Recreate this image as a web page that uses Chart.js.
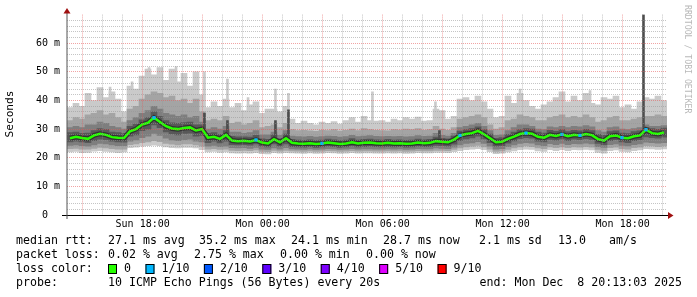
<!DOCTYPE html>
<html>
<head>
<meta charset="utf-8">
<script src="https://cdn.jsdelivr.net/npm/chart.js@4.4.1/dist/chart.umd.min.js"></script>
<style>
  html, body { margin: 0; padding: 0; background: #fff; }
  canvas { display: block; }
</style>
</head>
<body>
<canvas id="ping" width="697" height="297"></canvas>
<script>
// hours since Sun 00:00, one slot = 18 min
const tStart = 14.2175;   // Sun 14:13:03
const tEnd = 44.2175;     // Mon 20:13:03
const slotHours = 0.3;

const xLabelHours = [18, 24, 30, 36, 42];
const xLabels = ['Sun 18:00', 'Mon 00:00', 'Mon 06:00', 'Mon 12:00', 'Mon 18:00'];
const yLabelValues = [0, 10, 20, 30, 40, 50, 60];
const yLabels = ['0  ', '10 m', '20 m', '30 m', '40 m', '50 m', '60 m'];

// median rtt per slot (ms)
const median = [
  26.8, 27.3, 26.9, 26.6, 27.8, 28.4, 28.0, 27.2, 27.0, 26.9,
  29.2, 30.0, 31.6, 32.2, 34.0, 32.5, 31.0, 30.2, 30.0, 30.4,
  30.6, 29.5, 30.0, 27.0, 27.3, 26.6, 28.0, 26.0, 25.8, 25.9,
  25.7, 26.2, 25.3, 25.0, 26.5, 25.4, 26.8, 25.2, 25.0, 24.9,
  25.1, 24.8, 25.0, 25.3, 25.1, 24.8, 25.0, 25.4, 25.0, 25.2,
  25.3, 25.1, 25.0, 25.2, 25.0, 25.1, 24.9, 25.0, 25.3, 25.1,
  25.2, 25.8, 25.6, 25.4, 26.3, 27.8, 28.3, 28.6, 29.4, 28.2,
  26.8, 25.4, 25.6, 26.6, 27.4, 28.3, 28.6, 28.4, 27.3, 27.0,
  28.0, 27.6, 28.2, 27.5, 28.0, 27.8, 28.3, 27.9, 26.5, 26.0,
  27.5, 27.8, 27.0, 26.8, 27.5, 27.8, 29.8, 28.6, 28.3, 28.8
];
// slots where 1 of 10 pings was lost
const lossSlots = [14, 31, 42, 65, 76, 82, 85, 92, 96];

// smoke: spread of the 10 pings per slot (ms)
const smokeMax = [
  37.5, 39.0, 38.0, 42.5, 40.0, 44.5, 41.0, 43.0, 40.5, 36.0,
  45.0, 44.0, 48.5, 51.0, 49.0, 51.5, 47.0, 51.0, 46.5, 49.5,
  45.0, 50.0, 42.0, 37.5, 39.5, 38.0, 40.5, 37.5, 39.0, 36.5,
  38.5, 39.5, 35.5, 37.0, 37.0, 36.0, 38.0, 33.5, 32.0, 32.8,
  32.0, 31.5, 32.5, 32.0, 32.6, 31.8, 33.0, 34.0, 32.5, 34.5,
  33.0, 32.8, 33.0, 32.5, 33.5, 33.0, 34.0, 33.5, 34.2, 32.8,
  33.0, 37.0, 36.5, 33.5, 34.5, 40.5, 41.0, 40.0, 41.5, 39.5,
  37.0, 34.0, 34.5, 41.5, 39.0, 42.5, 40.0, 38.0, 37.0, 38.5,
  39.5, 41.0, 43.0, 39.5, 41.5, 40.0, 42.5, 39.0, 38.5, 41.0,
  40.5, 41.5, 37.5, 38.5, 37.0, 39.5, 41.0, 40.5, 41.5, 40.0
];
const smokeHi2 = [
  33.0, 34.0, 33.5, 35.0, 35.5, 36.5, 35.0, 35.5, 34.0, 32.5,
  37.0, 38.0, 40.5, 42.0, 43.0, 42.5, 41.0, 41.5, 40.0, 40.5,
  39.0, 40.5, 36.0, 33.0, 33.5, 33.0, 34.5, 32.0, 32.5, 31.5,
  32.0, 33.0, 30.5, 31.0, 31.5, 30.5, 32.0, 29.8, 29.5, 29.6,
  29.4, 29.2, 29.6, 29.5, 29.8, 29.3, 29.6, 30.0, 29.5, 30.2,
  29.8, 29.6, 29.5, 29.4, 29.8, 29.7, 30.0, 29.8, 30.2, 29.6,
  29.8, 31.0, 30.0, 29.6, 30.5, 33.5, 34.0, 34.5, 35.0, 34.0,
  31.5, 30.0, 30.5, 33.0, 33.5, 35.0, 34.5, 34.0, 33.0, 33.0,
  34.0, 34.5, 35.0, 34.0, 34.5, 34.0, 35.0, 34.0, 32.5, 33.0,
  34.0, 34.5, 33.0, 33.0, 33.5, 34.0, 34.5, 34.5, 35.0, 34.5
];
const smokeHi3 = [
  30.5, 31.0, 30.5, 31.5, 31.5, 32.5, 32.0, 31.0, 30.5, 30.0,
  33.0, 34.0, 35.5, 36.5, 38.0, 37.0, 35.5, 35.0, 34.5, 35.0,
  34.0, 34.5, 32.5, 30.0, 30.5, 30.0, 31.0, 29.0, 29.0, 28.5,
  28.8, 29.5, 28.0, 28.0, 29.0, 27.8, 29.5, 27.6, 27.4, 27.3,
  27.5, 27.2, 27.4, 27.6, 27.5, 27.2, 27.4, 27.8, 27.4, 27.6,
  27.7, 27.5, 27.4, 27.5, 27.4, 27.5, 27.3, 27.4, 27.7, 27.5,
  27.6, 28.5, 27.8, 27.6, 28.5, 30.5, 31.0, 31.5, 32.0, 31.0,
  29.5, 27.8, 28.0, 29.5, 30.5, 31.5, 31.5, 31.0, 30.0, 29.8,
  30.8, 30.5, 31.0, 30.5, 31.0, 30.8, 31.2, 30.8, 29.5, 29.0,
  30.5, 30.8, 30.0, 29.8, 30.2, 30.5, 31.5, 31.0, 31.0, 31.2
];
const smokeHi4 = [
  28.8, 29.0, 28.5, 28.6, 29.5, 30.2, 29.8, 29.0, 28.8, 28.5,
  31.0, 31.8, 33.2, 34.0, 36.0, 34.5, 33.0, 32.2, 32.0, 32.3,
  32.5, 31.5, 31.5, 28.5, 28.8, 28.2, 29.5, 27.5, 27.3, 27.3,
  27.2, 27.8, 26.6, 26.4, 28.0, 26.6, 28.3, 26.4, 26.2, 26.1,
  26.3, 26.0, 26.2, 26.5, 26.3, 26.0, 26.2, 26.7, 26.2, 26.4,
  26.5, 26.3, 26.2, 26.4, 26.2, 26.3, 26.1, 26.2, 26.5, 26.3,
  26.4, 27.2, 26.8, 26.6, 27.6, 29.3, 29.8, 30.2, 30.8, 29.8,
  28.3, 26.8, 27.0, 28.2, 29.0, 29.8, 30.2, 30.0, 29.0, 28.6,
  29.6, 29.2, 29.8, 29.1, 29.6, 29.4, 29.9, 29.5, 28.2, 27.8,
  29.1, 29.4, 28.6, 28.4, 29.1, 29.4, 30.6, 30.2, 29.9, 30.4
];
const smokeLo4 = [
  25.5, 25.8, 25.5, 25.3, 26.0, 26.5, 26.3, 25.8, 25.5, 25.4,
  27.5, 28.0, 29.5, 30.0, 31.5, 30.5, 29.0, 28.3, 28.0, 28.5,
  28.6, 27.5, 27.8, 25.3, 25.8, 25.2, 25.8, 24.6, 24.5, 24.6,
  24.4, 24.8, 24.0, 23.8, 24.8, 24.0, 24.8, 23.9, 23.8, 23.7,
  23.9, 23.6, 23.8, 24.0, 23.9, 23.6, 23.8, 24.1, 23.8, 23.9,
  24.0, 23.9, 23.8, 23.9, 23.8, 23.9, 23.7, 23.8, 24.0, 23.9,
  23.9, 24.3, 24.2, 24.0, 24.7, 26.0, 26.6, 26.9, 27.5, 26.6,
  25.3, 24.0, 24.2, 25.1, 25.9, 26.7, 27.0, 26.8, 25.8, 25.5,
  26.4, 26.1, 26.6, 26.0, 26.5, 26.3, 26.7, 26.4, 25.0, 24.6,
  26.0, 26.3, 25.5, 25.3, 26.0, 26.3, 27.3, 27.0, 26.8, 27.2
];
const smokeLo3 = [
  24.3, 24.5, 24.2, 24.0, 24.5, 25.0, 24.8, 24.5, 24.2, 24.2,
  25.8, 26.2, 27.0, 27.5, 28.5, 27.8, 26.8, 26.2, 26.0, 26.3,
  26.5, 25.8, 25.5, 24.0, 24.3, 23.9, 24.0, 23.5, 23.4, 23.5,
  23.3, 23.6, 23.0, 22.9, 23.4, 23.0, 23.5, 23.1, 23.0, 22.9,
  23.1, 22.9, 23.0, 23.2, 23.1, 22.9, 23.0, 23.2, 23.0, 23.1,
  23.1, 23.0, 23.0, 23.1, 23.0, 23.1, 22.9, 23.0, 23.2, 23.1,
  23.1, 23.4, 23.3, 23.2, 23.7, 24.5, 25.0, 25.2, 25.6, 25.0,
  24.0, 23.0, 23.2, 23.9, 24.5, 25.0, 25.3, 25.1, 24.5, 24.2,
  24.9, 24.6, 25.0, 24.6, 24.9, 24.8, 25.1, 24.8, 23.9, 23.6,
  24.6, 24.8, 24.3, 24.1, 24.6, 24.8, 25.4, 25.3, 25.1, 25.3
];
const smokeLo2 = [
  23.2, 23.3, 23.0, 23.0, 23.3, 23.6, 23.4, 23.2, 23.0, 23.0,
  24.6, 24.8, 25.3, 25.5, 26.0, 25.6, 25.0, 24.7, 24.5, 24.8,
  24.8, 24.5, 24.0, 23.0, 23.2, 22.9, 23.0, 22.6, 22.5, 22.6,
  22.5, 22.7, 22.2, 22.1, 22.6, 22.3, 22.6, 22.4, 22.3, 22.2,
  22.4, 22.2, 22.3, 22.5, 22.4, 22.2, 22.3, 22.5, 22.3, 22.4,
  22.4, 22.3, 22.3, 22.4, 22.3, 22.4, 22.2, 22.3, 22.5, 22.4,
  22.4, 22.6, 22.6, 22.5, 22.9, 23.4, 23.8, 24.0, 24.3, 23.8,
  23.0, 22.2, 22.4, 22.9, 23.4, 23.8, 24.1, 23.9, 23.4, 23.2,
  23.8, 23.5, 23.8, 23.5, 23.8, 23.7, 23.9, 23.7, 22.9, 22.6,
  23.5, 23.7, 23.2, 23.0, 23.5, 23.7, 24.2, 24.1, 23.9, 24.1
];
const smokeMin = [
  22.0, 22.2, 21.8, 21.9, 22.3, 22.5, 22.2, 22.0, 21.8, 22.0,
  23.5, 23.7, 24.0, 24.2, 24.4, 24.2, 23.8, 23.5, 23.4, 23.6,
  23.6, 23.4, 22.8, 22.0, 22.2, 21.9, 22.0, 21.7, 21.6, 21.7,
  21.6, 21.8, 21.4, 21.3, 21.8, 21.6, 21.8, 21.7, 21.6, 21.5,
  21.7, 21.5, 21.6, 21.8, 21.7, 21.5, 21.6, 21.8, 21.6, 21.7,
  21.7, 21.6, 21.6, 21.7, 21.6, 21.7, 21.5, 21.6, 21.8, 21.7,
  21.7, 21.9, 21.9, 21.8, 22.1, 22.5, 22.8, 23.0, 23.2, 22.8,
  22.1, 21.4, 21.6, 22.0, 22.4, 22.8, 23.0, 22.9, 22.4, 22.2,
  22.8, 22.5, 22.8, 22.5, 22.8, 22.7, 22.9, 22.7, 21.9, 21.6,
  22.5, 22.7, 22.2, 22.0, 22.5, 22.7, 23.2, 23.1, 22.9, 23.1
];

// single-sample outliers (hours, ms)
const spikeHours = [16.37, 17.47, 18.32, 19.67, 21.09, 22.24, 23.27, 24.64, 25.29, 29.49, 32.64, 36.87, 40.37];
const spikeTop   = [44.7, 46.5, 51.5, 51.8, 50.0, 47.5, 41.0, 44.0, 42.5, 43.0, 39.5, 44.0, 43.5];
const darkHours  = [21.09, 22.24, 24.64, 25.29, 32.84, 43.04];
const darkBase   = [29.0, 27.5, 26.5, 26.0, 25.5, 29.0];
const darkTop    = [35.6, 33.0, 33.0, 36.7, 29.5, 70.0];

const lossColors = ['#26ff00', '#00b8ff', '#0059ff', '#5e00ff', '#7e00ff', '#dd00ff', '#ff0000'];
const lossNames = ['0', '1/10', '2/10', '3/10', '4/10', '5/10', '9/10'];

// legend rows: [text, x]
const rttLegend = [
  ['median rtt:', 16], ['27.1 ms avg', 108], ['35.2 ms max', 199], ['24.1 ms min', 291],
  ['28.7 ms now', 383], ['2.1 ms sd', 479], ['13.0', 558], ['am/s', 609]
];
const lossLegend = [
  ['packet loss:', 16], ['0.02 % avg', 108], ['2.75 % max', 194], ['0.00 % min', 280], ['0.00 % now', 366]
];
const probeText = '10 ICMP Echo Pings (56 Bytes) every 20s';
const endText = 'end: Mon Dec  8 20:13:03 2025';

const slotTimes = median.map((v, i) => tStart + (i + 0.5) * slotHours);
const band = (lo, hi) => slotTimes.map((t, i) => ({ x: t, y: [lo[i], hi[i]] }));
const medianPts = slotTimes.map((t, i) => ({ x: t, y: median[i] }));

const hourTicks = [];
for (let h = Math.ceil(tStart); h <= tEnd; h++) hourTicks.push(h);
const yGrid = [];
for (let v = 0; v <= 70; v += 2) yGrid.push(v);

const MONO = '"DejaVu Sans Mono"';
const bar = { type: 'bar', stack: 'smoke', borderWidth: 0, barThickness: 6 };

// axes, arrows and the rrdtool style legend underneath
const rrdDecor = {
  id: 'rrdDecor',
  afterDraw(chart) {
    const ctx = chart.ctx;
    const a = chart.chartArea;
    ctx.save();
    ctx.fillStyle = '#000';
    ctx.fillRect(62, a.bottom, a.right - 62 + 1, 1);
    ctx.fillStyle = '#555';
    ctx.fillRect(a.left - 0.5, 12, 1, a.bottom - 12 + 4);

    ctx.fillStyle = '#a01010';
    ctx.beginPath();
    ctx.moveTo(a.right + 1, a.bottom - 3); ctx.lineTo(a.right + 6.5, a.bottom + 0.5); ctx.lineTo(a.right + 1, a.bottom + 4);
    ctx.fill();
    ctx.beginPath();
    ctx.moveTo(a.left - 3.5, 13.5); ctx.lineTo(a.left, 8); ctx.lineTo(a.left + 3.5, 13.5);
    ctx.fill();

    ctx.fillStyle = '#000';
    ctx.font = '11.2px ' + MONO;
    ctx.textAlign = 'center';
    ctx.textBaseline = 'middle';
    ctx.save();
    ctx.translate(10.5, 114);
    ctx.rotate(-Math.PI / 2);
    ctx.fillText('Seconds', 0, 0);
    ctx.restore();

    ctx.fillStyle = '#b8b8b8';
    ctx.font = '8.2px ' + MONO;
    ctx.textAlign = 'left';
    ctx.save();
    ctx.translate(687, 5);
    ctx.rotate(Math.PI / 2);
    ctx.fillText('RRDTOOL / TOBI OETIKER', 0, 0);
    ctx.restore();

    ctx.fillStyle = '#000';
    ctx.font = '11.6px ' + MONO;
    const rows = [241, 255, 269, 283];
    rttLegend.forEach(([s, x]) => ctx.fillText(s, x, rows[0]));
    lossLegend.forEach(([s, x]) => ctx.fillText(s, x, rows[1]));
    ctx.fillText('loss color:', 16, rows[2]);
    ctx.fillText('probe:', 16, rows[3]);
    ctx.fillText(probeText, 108, rows[3]);
    ctx.textAlign = 'right';
    ctx.fillText(endText, 682, rows[3]);
    ctx.textAlign = 'left';

    let cx = 108;
    lossNames.forEach((name, i) => {
      ctx.fillStyle = lossColors[i];
      ctx.fillRect(cx, rows[2] - 5, 9, 10);
      ctx.strokeStyle = '#000';
      ctx.lineWidth = 1;
      ctx.strokeRect(cx + 0.5, rows[2] - 4.5, 8, 9);
      ctx.fillStyle = '#000';
      ctx.fillText(name, cx + 16, rows[2]);
      cx += 16 + ctx.measureText(name).width + 14.5;
    });
    ctx.restore();
  }
};

new Chart(document.getElementById('ping'), {
  type: 'bar',
  data: {
    datasets: [
      { type: 'line', data: medianPts, borderColor: lossColors[0], borderWidth: 2.5, tension: 0,
        pointStyle: 'rect', pointBorderWidth: 0, pointBackgroundColor: lossColors[1],
        pointRadius: c => lossSlots.includes(c.dataIndex) ? 2.3 : 0, order: 0 },
      { type: 'line', data: medianPts, borderColor: '#323232', borderWidth: 5, tension: 0, pointRadius: 0, order: 1 },
      { ...bar, barThickness: 2, backgroundColor: '#4d4d4d', order: 2,
        data: darkHours.map((t, i) => ({ x: t, y: [darkBase[i], darkTop[i]] })) },
      { ...bar, data: band(smokeLo4, smokeHi4), backgroundColor: '#585858', order: 3 },
      { ...bar, data: band(smokeLo3, smokeHi3), backgroundColor: '#7e7e7e', order: 4 },
      { ...bar, data: band(smokeLo2, smokeHi2), backgroundColor: '#a4a4a4', order: 5 },
      { ...bar, data: band(smokeMin, smokeMax), backgroundColor: '#cacaca', order: 6 },
      { ...bar, barThickness: 2, backgroundColor: '#cacaca', order: 7,
        data: spikeHours.map((t, i) => ({ x: t, y: [25, spikeTop[i]] })) }
    ]
  },
  options: {
    responsive: false,
    animation: false,
    events: [],
    layout: { padding: { left: 0, top: 14.6, right: 30, bottom: 0 } },
    plugins: { legend: { display: false }, tooltip: { enabled: false } },
    scales: {
      x: {
        type: 'linear', min: tStart, max: tEnd, offset: false,
        afterBuildTicks: s => { s.ticks = hourTicks.map(v => ({ value: v })); },
        afterFit: s => { s.height = 82; },
        ticks: {
          autoSkip: false, maxRotation: 0, minRotation: 0, padding: 3, color: '#000',
          font: { family: MONO, size: 10 },
          callback: v => { const k = xLabelHours.indexOf(v); return k >= 0 ? xLabels[k] : ''; }
        },
        grid: { offset: false, drawTicks: false, z: 1,
          color: c => (c.tick && c.tick.value % 3 === 0) ? 'rgba(230,90,90,0.55)' : 'rgba(150,150,150,0.55)' },
        border: { display: false, dash: [1, 1] }
      },
      y: {
        min: 0, max: 70, stacked: false,
        afterBuildTicks: s => { s.ticks = yGrid.map(v => ({ value: v })); },
        afterFit: s => { s.width = 67; },
        ticks: {
          autoSkip: false, padding: 7, color: '#000',
          font: { family: MONO, size: 10 },
          callback: v => { const k = yLabelValues.indexOf(v); return k >= 0 ? yLabels[k] : ''; }
        },
        grid: { drawTicks: false, z: 1,
          color: c => {
            const v = c.tick ? c.tick.value : -1;
            if (v === 0 || v === 70) return 'rgba(0,0,0,0)';
            return v % 10 === 0 ? 'rgba(230,90,90,0.55)' : 'rgba(150,150,150,0.55)';
          } },
        border: { display: false, dash: [1, 1] }
      }
    }
  },
  plugins: [rrdDecor]
});
</script>
</body>
</html>
